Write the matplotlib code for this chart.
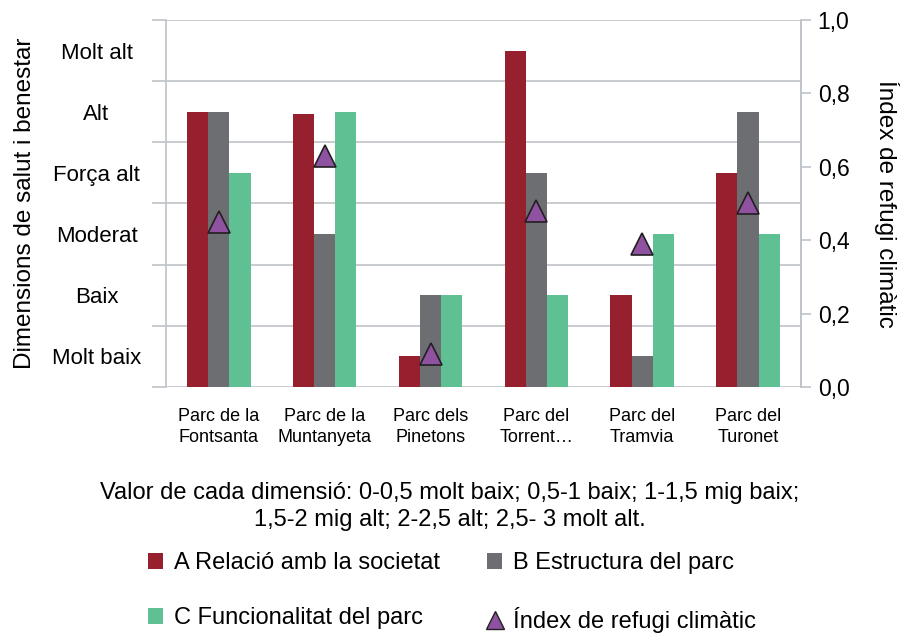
import numpy as np
import matplotlib.pyplot as plt
from matplotlib.lines import Line2D
from matplotlib.patches import Patch

plt.rcParams['font.family'] = ['Liberation Sans', 'DejaVu Sans']

parks = ["Parc de la\nFontsanta", "Parc de la\nMuntanyeta", "Parc dels\nPinetons",
         "Parc del\nTorrent…", "Parc del\nTramvia", "Parc del\nTuronet"]
relacio = [2.25, 2.23, 0.25, 2.75, 0.75, 1.75]
estructura = [2.25, 1.25, 0.75, 1.75, 0.25, 2.25]
funcionalitat = [1.75, 2.25, 0.75, 0.75, 1.25, 1.25]
index_refugi = [0.45, 0.63, 0.09, 0.48, 0.39, 0.50]

level_labels = ["Molt baix", "Baix", "Moderat", "Força alt", "Alt", "Molt alt"]

c_a = "#97202F"
c_b = "#6D6E71"
c_c = "#5FC193"
c_tri = "#8E52A1"
grid_c = "#BFC4CA"

fig = plt.figure(figsize=(9, 6.36), dpi=100)
ax = fig.add_axes([0.1844, 0.3915, 0.7056, 0.5771])

x = np.arange(len(parks))
w = 0.2
ax.bar(x - w, relacio, w, color=c_a, zorder=2)
ax.bar(x, estructura, w, color=c_b, zorder=2)
ax.bar(x + w, funcionalitat, w, color=c_c, zorder=2)

ax.set_xlim(-0.5, len(parks) - 0.5)
ax.set_ylim(0, 3)
ax.set_yticks(np.arange(0, 3.01, 0.5))
ax.set_yticklabels([])
ax.set_yticks(np.arange(0.25, 3, 0.5), minor=True)
ax.set_yticklabels(level_labels, minor=True, fontsize=16, ha='center')
ax.tick_params(axis='y', which='major', length=10, color=grid_c, width=1.2)
ax.tick_params(axis='y', which='minor', length=0, pad=50)
ax.yaxis.grid(True, which='major', color=grid_c, linewidth=1.2, zorder=0)
ax.set_axisbelow(True)

ax.set_xticks(x)
ax.set_xticklabels(parks, fontsize=13, linespacing=1.3)
ax.tick_params(axis='x', length=0, pad=15)

for s in ['top', 'bottom']:
    ax.spines[s].set_visible(False)
ax.spines['left'].set_color(grid_c)
ax.spines['left'].set_linewidth(1.2)
ax.spines['right'].set_color(grid_c)
ax.spines['right'].set_linewidth(1.2)
ax.set_ylabel("Dimensions de salut i benestar", fontsize=17.5)
ax.yaxis.set_label_coords(-0.205, 0.5)

ax2 = ax.twinx()
ax2.set_ylim(0, 1)
ax2.set_yticks(np.arange(0, 1.01, 0.2))
ax2.set_yticklabels([f"{v:.1f}".replace('.', ',') for v in np.arange(0, 1.01, 0.2)], fontsize=16.5)
ax2.tick_params(axis='y', length=7, color=grid_c, width=1.2, pad=5)
for s in ['top', 'bottom', 'left']:
    ax2.spines[s].set_visible(False)
ax2.spines['right'].set_color(grid_c)
ax2.spines['right'].set_linewidth(1.2)
ax2.plot(x, index_refugi, linestyle='none', marker='^', markersize=16,
         markerfacecolor=c_tri, markeredgecolor='#231F20', markeredgewidth=1.2, zorder=3)
ax2.set_ylabel("Índex de refugi climàtic", fontsize=17.5, rotation=-90, va='center')
ax2.yaxis.set_label_coords(1.135, 0.5)

fig.text(0.5, 0.203, "Valor de cada dimensió: 0-0,5 molt baix; 0,5-1 baix; 1-1,5 mig baix;\n"
         "1,5-2 mig alt; 2-2,5 alt; 2,5- 3 molt alt.",
         ha='center', va='center', fontsize=17, linespacing=1.3)

handles = [
    Patch(facecolor=c_a, label="A Relació amb la societat"),
    Patch(facecolor=c_c, label="C Funcionalitat del parc"),
    Patch(facecolor=c_b, label="B Estructura del parc"),
    Line2D([], [], linestyle='none', marker='^', markersize=13, markerfacecolor=c_tri,
           markeredgecolor='#231F20', markeredgewidth=1, label="Índex de refugi climàtic"),
]
fig.legend(handles=handles, ncol=2, loc='center', bbox_to_anchor=(0.502, 0.068),
           frameon=False, fontsize=17, labelspacing=1.4, columnspacing=2.0,
           handlelength=0.65, handleheight=0.65, handletextpad=0.45)

fig.savefig("out.png", dpi=100)
